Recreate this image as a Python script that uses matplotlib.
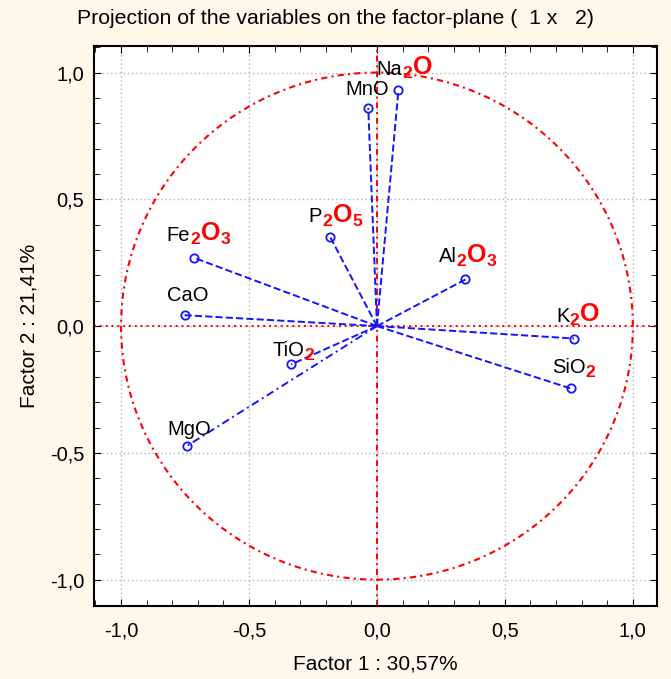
import numpy as np
import matplotlib
matplotlib.use("Agg")
import matplotlib.pyplot as plt
from matplotlib.ticker import MultipleLocator, FuncFormatter

plt.rcParams['font.family'] = ['Liberation Sans', 'DejaVu Sans']
plt.rcParams['mathtext.fontset'] = 'custom'
plt.rcParams['mathtext.rm'] = 'Liberation Sans'
plt.rcParams['mathtext.bf'] = 'Liberation Sans:bold'
plt.rcParams['mathtext.default'] = 'regular'

# variable loadings on factor 1 / factor 2
variables = ['Na2O', 'MnO', 'P2O5', 'Fe2O3', 'CaO', 'Al2O3', 'K2O', 'SiO2', 'TiO2', 'MgO']
factor1 = [0.084, -0.034, -0.182, -0.714, -0.752, 0.346, 0.770, 0.757, -0.335, -0.743]
factor2 = [0.931, 0.860, 0.350, 0.269, 0.043, 0.184, -0.049, -0.246, -0.151, -0.473]

# label text: black part followed by red part
label_black = ['Na', 'MnO', 'P', 'Fe', 'CaO', 'Al', 'K', 'SiO', 'TiO', 'MgO']
label_red = ['$_2$O', '', '$_2$O$_5$', '$_2$O$_3$', '', '$_2$O$_3$', '$_2$O', '$_2$', '$_2$', '']

# label offsets from the marker (pixels, baseline-left)
label_offsets = [(-22, 15), (-23, 13), (-22, 15), (-28, 17), (-18, 14),
                 (-27, 17), (-18, 17), (-19, 15), (-19, 8), (-19, 11)]

tick_values = [-1.0, -0.5, 0.0, 0.5, 1.0]

fig = plt.figure(figsize=(6.71, 6.79), dpi=100, facecolor='#fff8ea')
ax = fig.add_axes([0.140, 0.1075, 0.839, 0.8245])
ax.set_facecolor('white')

# unit circle and the axes through the origin
t = np.linspace(0, 2 * np.pi, 400)
ax.plot(np.cos(t), np.sin(t), color='red', lw=1.5, ls=(0, (3, 2, 1, 2)), zorder=2)
ax.axhline(0, color='red', lw=1.4, ls=(0, (1, 2)), zorder=2)
ax.axvline(0, color='red', lw=1.4, ls=(0, (3, 2, 1, 2)), zorder=2)

styles = ['--'] * len(variables)
styles[variables.index('MgO')] = (0, (4, 2, 1, 2))
for x, y, st in zip(factor1, factor2, styles):
    ax.plot([0, x], [0, y], color='#1414ff', lw=1.4, ls=st, zorder=3)
ax.plot(factor1, factor2, 'o', ms=6, mfc='none', mec='#1414ff', mew=1.3, zorder=4)

for x, y, blk, red, off in zip(factor1, factor2, label_black, label_red, label_offsets):
    t1 = ax.annotate(blk, xy=(x, y), xytext=off, textcoords='offset pixels',
                     ha='left', va='baseline', fontsize=14.5, color='black', zorder=5)
    if red:
        ax.annotate(red, xy=(1, y), xycoords=(t1, 'data'), xytext=(0, off[1]),
                    textcoords='offset pixels', ha='left', va='baseline',
                    fontsize=18, fontweight='bold', color='red', zorder=5)

ax.set_xlim(-1.106, 1.094)
ax.set_ylim(-1.104, 1.104)
ax.set_xticks(tick_values)
ax.set_yticks(tick_values)
ax.xaxis.set_minor_locator(MultipleLocator(0.1))
ax.yaxis.set_minor_locator(MultipleLocator(0.1))
comma = FuncFormatter(lambda v, p: f'{v:.1f}'.replace('.', ','))
ax.xaxis.set_major_formatter(comma)
ax.yaxis.set_major_formatter(comma)
ax.tick_params(which='both', direction='in', top=True, right=True, labelsize=14.5)
ax.tick_params(which='major', length=5)
ax.tick_params(axis='x', which='major', pad=11)
ax.tick_params(axis='y', which='major', pad=7)
ax.tick_params(which='minor', length=4)
ax.grid(True, color='#b0b0b0', ls=(0, (1, 2)), lw=1)
for s in ax.spines.values():
    s.set_linewidth(1.5)

fig.text(0.5, 0.973, 'Projection of the variables on the factor-plane (  1 x   2)',
         ha='center', va='center', fontsize=15.3)
ax.set_xlabel('Factor 1 : 30,57%', fontsize=15, labelpad=10)
ax.set_ylabel('Factor 2 : 21,41%', fontsize=15, labelpad=8)

fig.savefig('out.png', dpi=100, facecolor=fig.get_facecolor())
